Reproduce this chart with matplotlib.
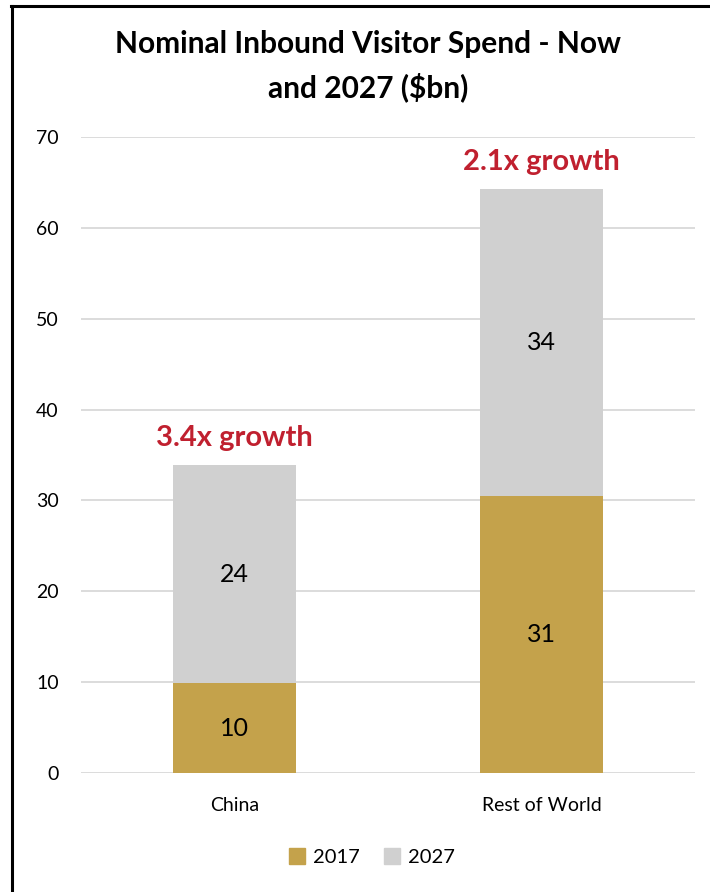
import matplotlib.pyplot as plt
from matplotlib.lines import Line2D
from matplotlib.patches import Patch

plt.rcParams['font.family'] = ['Lato', 'DejaVu Sans']

categories = ["China", "Rest of World"]
spend_2017 = [9.9, 30.5]
spend_2027_extra = [24.0, 33.8]
labels_2017 = ["10", "31"]
labels_2027 = ["24", "34"]
growth = ["3.4x growth", "2.1x growth"]

gold = "#C4A24B"
grey = "#D0D0D0"
red = "#C0202F"

fig = plt.figure(figsize=(7.1, 8.92), dpi=100)
ax = fig.add_axes([81 / 710, 119 / 892, 614 / 710, 636 / 892])

x = range(len(categories))
ax.bar(x, spend_2017, width=0.4, color=gold, zorder=3)
ax.bar(x, spend_2027_extra, width=0.4, bottom=spend_2017, color=grey, zorder=3)

for i in x:
    ax.text(i, spend_2017[i] / 2, labels_2017[i], ha="center", va="center",
            fontsize=18, zorder=4)
    ax.text(i, spend_2017[i] + spend_2027_extra[i] / 2, labels_2027[i],
            ha="center", va="center", fontsize=18, zorder=4)
    ax.text(i, spend_2017[i] + spend_2027_extra[i] + 1.5, growth[i],
            ha="center", va="bottom", fontsize=21, fontweight="bold", color=red)

ax.set_xlim(-0.5, 1.5)
ax.set_ylim(0, 70)
ax.set_yticks(range(0, 71, 10))
ax.set_xticks(list(x))
ax.set_xticklabels(categories, fontsize=14)
ax.tick_params(axis="y", labelsize=14, length=0, pad=16)
ax.tick_params(axis="x", length=0, pad=17)
ax.grid(axis="y", color="#D9D9D9", linewidth=1.3, zorder=0)
for s in ax.spines.values():
    s.set_visible(False)

fig.text(368 / 710, 1 - 66 / 892, "Nominal Inbound Visitor Spend - Now\nand 2027 ($bn)",
         ha="center", va="center", fontsize=21.5, fontweight="bold",
         linespacing=1.6)

handles = [Patch(color=gold, label="2017"), Patch(color=grey, label="2027")]
fig.legend(handles=handles, loc="center", bbox_to_anchor=(372 / 710, 1 - 857 / 892),
           ncol=2, frameon=False, fontsize=14.5, handlelength=0.8, handleheight=0.8,
           handletextpad=0.4, columnspacing=1.2)

# frame lines at top and left
fig.add_artist(Line2D([11 / 710, 1], [1 - 5.5 / 892, 1 - 5.5 / 892], color="black", linewidth=2.2))
fig.add_artist(Line2D([11.5 / 710, 11.5 / 710], [0, 1 - 5.5 / 892], color="black", linewidth=2.2))

fig.savefig("out.png", dpi=100)
